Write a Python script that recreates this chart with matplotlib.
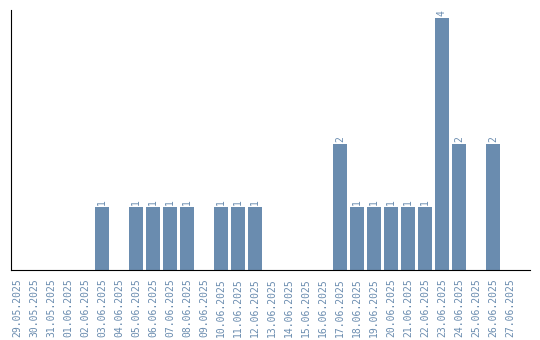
import matplotlib
matplotlib.use("Agg")
import matplotlib.pyplot as plt

# данные
dates = ["29.05.2025", "30.05.2025", "31.05.2025", "01.06.2025", "02.06.2025",
         "03.06.2025", "04.06.2025", "05.06.2025", "06.06.2025", "07.06.2025",
         "08.06.2025", "09.06.2025", "10.06.2025", "11.06.2025", "12.06.2025",
         "13.06.2025", "14.06.2025", "15.06.2025", "16.06.2025", "17.06.2025",
         "18.06.2025", "19.06.2025", "20.06.2025", "21.06.2025", "22.06.2025",
         "23.06.2025", "24.06.2025", "25.06.2025", "26.06.2025", "27.06.2025"]
counts = [0, 0, 0, 0, 0,
          1, 0, 1, 1, 1,
          1, 0, 1, 1, 1,
          0, 0, 0, 0, 2,
          1, 1, 1, 1, 1,
          4, 2, 0, 2, 0]

color = "#6a8caf"

fig = plt.figure(figsize=(5.4, 3.4), dpi=100)
ax = fig.add_axes([11 / 540, 70 / 340, 519 / 540, 260 / 340])

x = list(range(len(dates)))
ax.bar(x, counts, width=0.82, color=color)

for i, v in enumerate(counts):
    if v > 0:
        ax.text(i, v + 0.03, str(v), rotation=90, ha="center", va="bottom",
                color=color, fontsize=7, family="DejaVu Sans Mono")

ax.set_xticks(x)
ax.set_xticklabels(dates, rotation=90, color=color, fontsize=7,
                   family="DejaVu Sans Mono")
ax.set_yticks([])
ax.tick_params(axis="x", length=0, pad=6)
ax.set_xlim(-0.35, len(dates) + 0.18)
ax.set_ylim(0, 4.13)
ax.spines["top"].set_visible(False)
ax.spines["right"].set_visible(False)

fig.savefig("out.png", dpi=100)
